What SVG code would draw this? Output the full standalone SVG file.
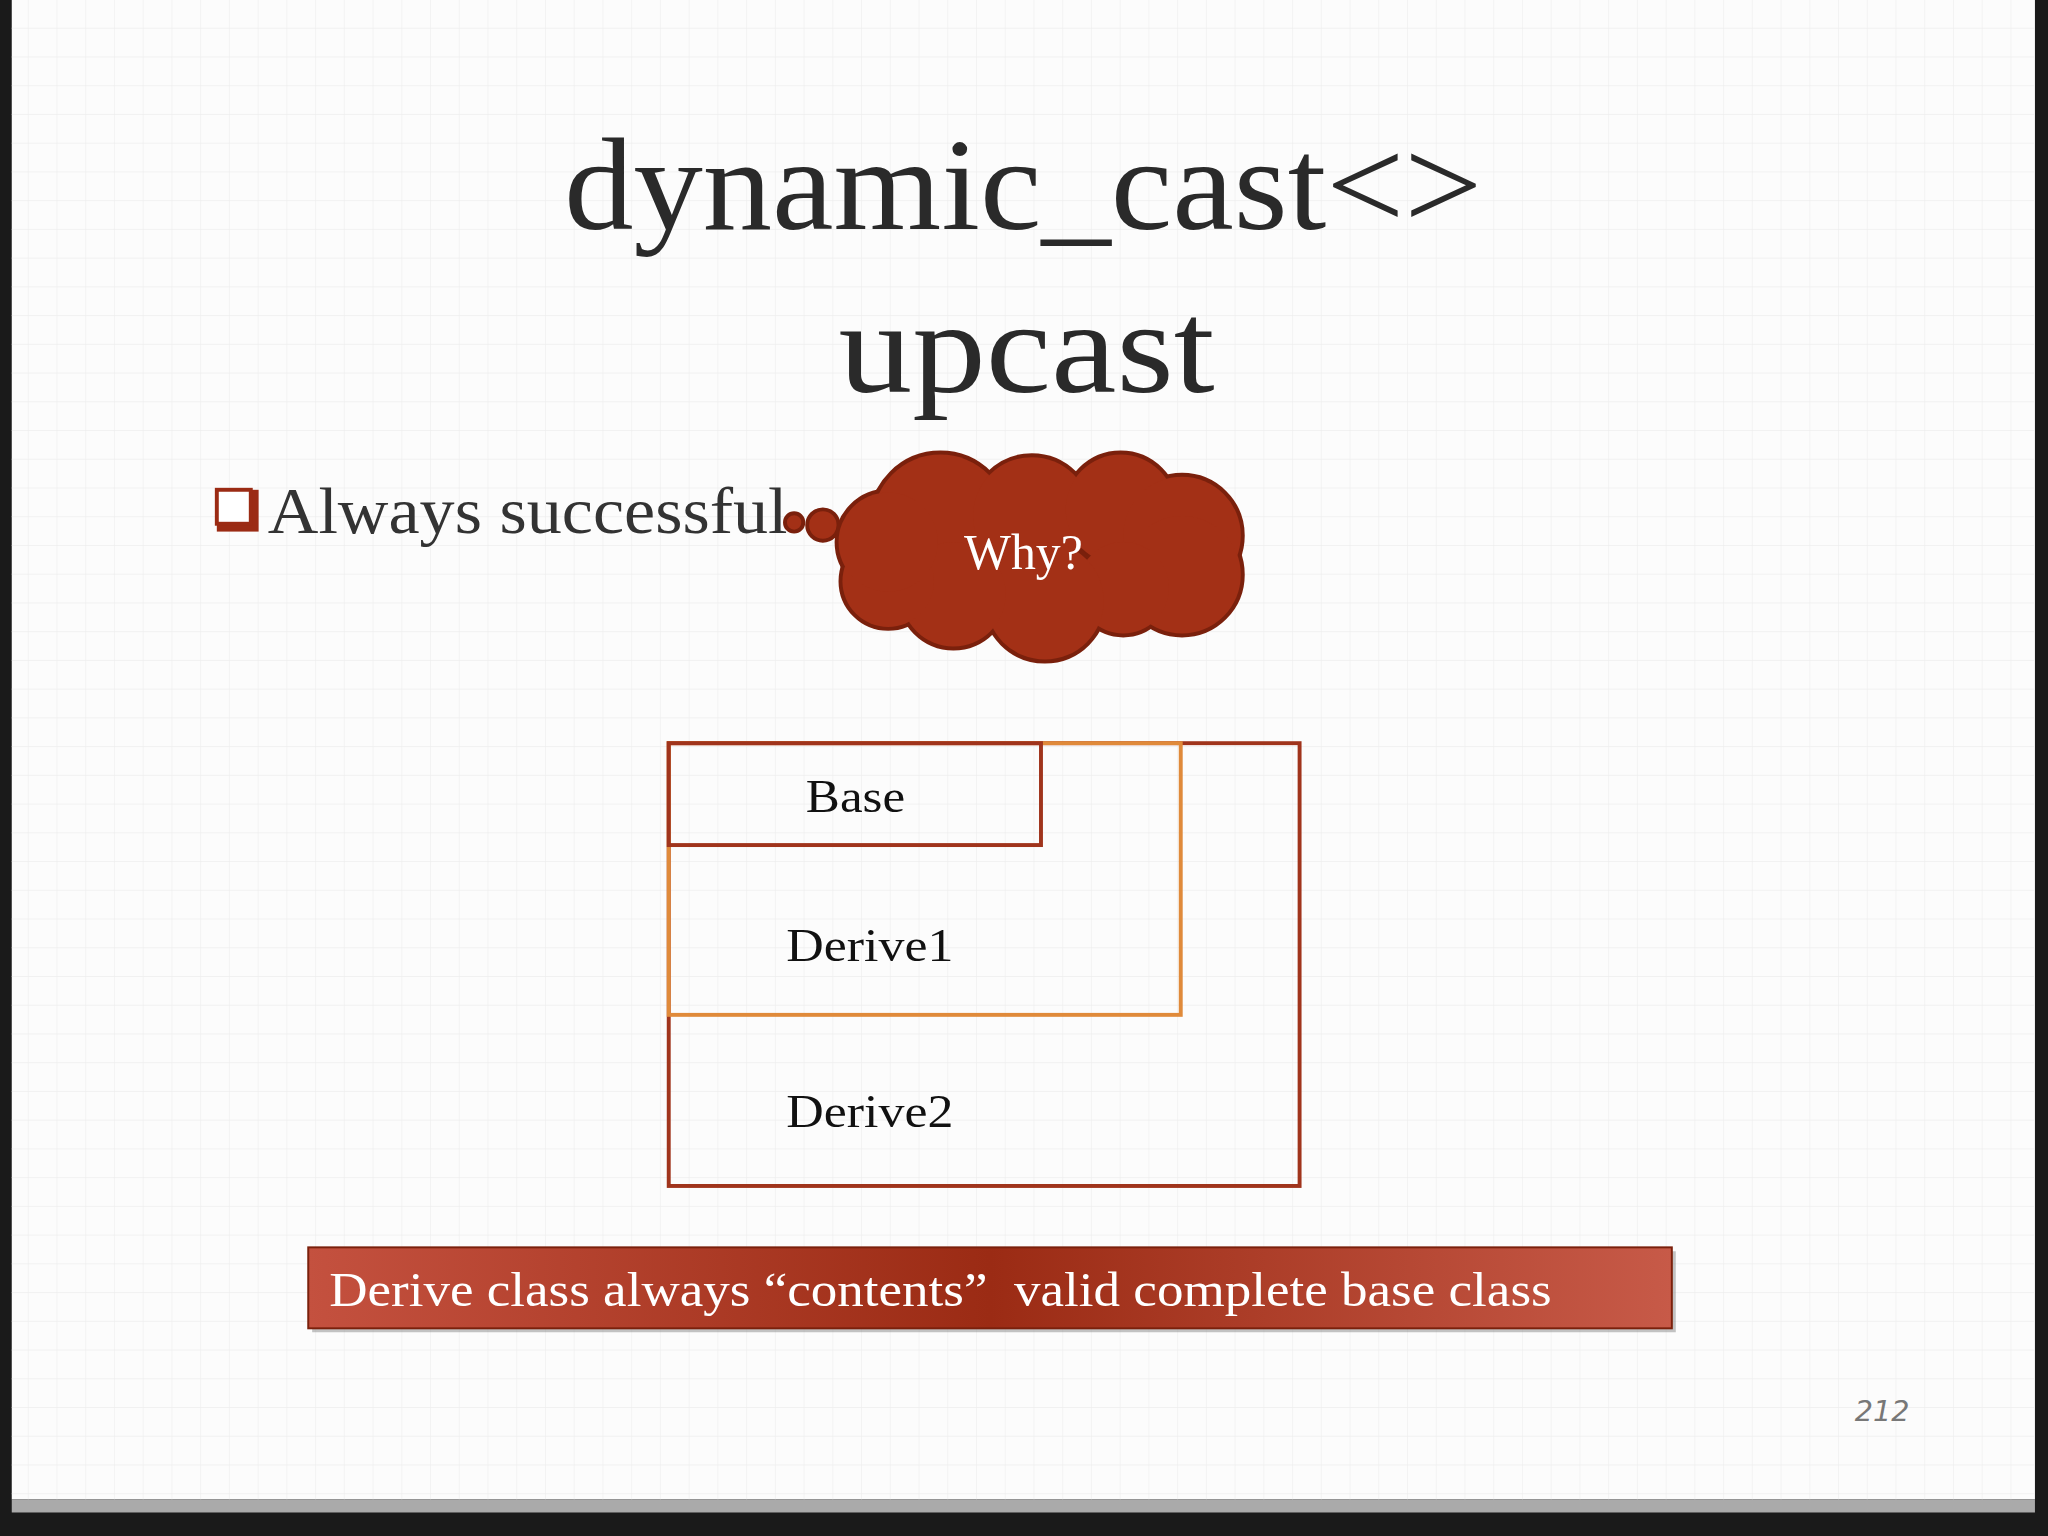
<svg xmlns="http://www.w3.org/2000/svg" width="2048" height="1536" viewBox="0 0 2048 1536">
<defs>
<linearGradient id="ban" x1="0" y1="0" x2="1" y2="0">
<stop offset="0" stop-color="#c4513f"/><stop offset="0.5" stop-color="#9b2b14"/><stop offset="1" stop-color="#c75a48"/>
</linearGradient>
<pattern id="grid" width="22" height="22" patternUnits="userSpaceOnUse">
<path d="M22 0V22H0" fill="none" stroke="#eeeeee" stroke-width="1"/>
</pattern>
<g id="puffs">
<circle cx="720" cy="400" r="52"/>
<circle cx="790" cy="395" r="45"/>
<circle cx="858" cy="390" r="42"/>
<circle cx="905" cy="410" r="45"/>
<circle cx="905" cy="440" r="45"/>
<circle cx="860" cy="450" r="35"/>
<circle cx="800" cy="460" r="45"/>
<circle cx="730" cy="455" r="40"/>
<circle cx="680" cy="445" r="35"/>
<circle cx="680" cy="415" r="38"/>
</g>
<style>
.serif{font-family:"Liberation Serif","DejaVu Serif",serif}
.box{fill:none;stroke-width:3}
</style>
</defs>
<rect width="2048" height="1536" fill="#1a1a1a"/>
<g transform="scale(1.306122)">
<rect x="9" y="0" width="1549" height="1148" fill="#fcfcfc"/>
<rect x="9" y="0" width="1549" height="1148" fill="url(#grid)"/>
<rect x="9" y="1148" width="1549" height="10" fill="#aaaaaa"/>
<text class="serif" x="432" y="175" font-size="100" textLength="703" lengthAdjust="spacingAndGlyphs" fill="#2a2a2a">dynamic_cast&lt;&gt;</text>
<text class="serif" x="642" y="300" font-size="100" textLength="288" lengthAdjust="spacingAndGlyphs" fill="#2a2a2a">upcast</text>
<g id="bullet">
<rect x="166" y="375" width="32" height="32" fill="#9b2b14"/>
<rect x="166" y="375" width="26" height="26" fill="#fff" stroke="#9b2b14" stroke-width="3"/>
<text class="serif" x="205" y="408" font-size="50" textLength="398" lengthAdjust="spacingAndGlyphs" fill="#333">Always successful</text>
</g>
<g id="cloud">
<circle cx="608" cy="400" r="7" fill="#a33016" stroke="#7a200c" stroke-width="3"/>
<circle cx="630" cy="402" r="12" fill="#a33016" stroke="#7a200c" stroke-width="3"/>
<use href="#puffs" fill="#7a200c" stroke="#7a200c" stroke-width="6"/>
<use href="#puffs" fill="#a33016"/>
<text class="serif" x="738" y="436" font-size="38" textLength="91" lengthAdjust="spacingAndGlyphs" fill="#fff">Why?</text>
</g>
<g id="derive2"><rect class="box" x="512" y="569" width="483" height="339" stroke="#a0341c"/>
<text class="serif" x="602" y="863" font-size="36" textLength="128" lengthAdjust="spacingAndGlyphs" fill="#111">Derive2</text></g>
<g id="derive1"><rect class="box" x="512" y="569" width="392" height="208" stroke="#e08a3a"/>
<text class="serif" x="602" y="736" font-size="36" textLength="128" lengthAdjust="spacingAndGlyphs" fill="#111">Derive1</text></g>
<g id="base"><rect class="box" x="512" y="569" width="285" height="78" fill="#fff" stroke="#a0341c"/>
<text class="serif" x="617" y="622" font-size="36" textLength="76" lengthAdjust="spacingAndGlyphs" fill="#111">Base</text></g>
<g id="banner">
<rect x="239" y="958" width="1044" height="62" fill="#888" opacity="0.5"/>
<rect x="236" y="955" width="1044" height="62" fill="url(#ban)" stroke="#7a200c" stroke-width="1.5"/>
<text class="serif" x="252" y="1000" font-size="37" textLength="936" lengthAdjust="spacingAndGlyphs" fill="#fff" xml:space="preserve">Derive class always “contents”  valid complete base class</text>
</g>
<text x="1441" y="1088" font-family="DejaVu Sans, sans-serif" font-style="italic" font-size="22" text-anchor="middle" fill="#777">212</text>
</g>
</svg>
